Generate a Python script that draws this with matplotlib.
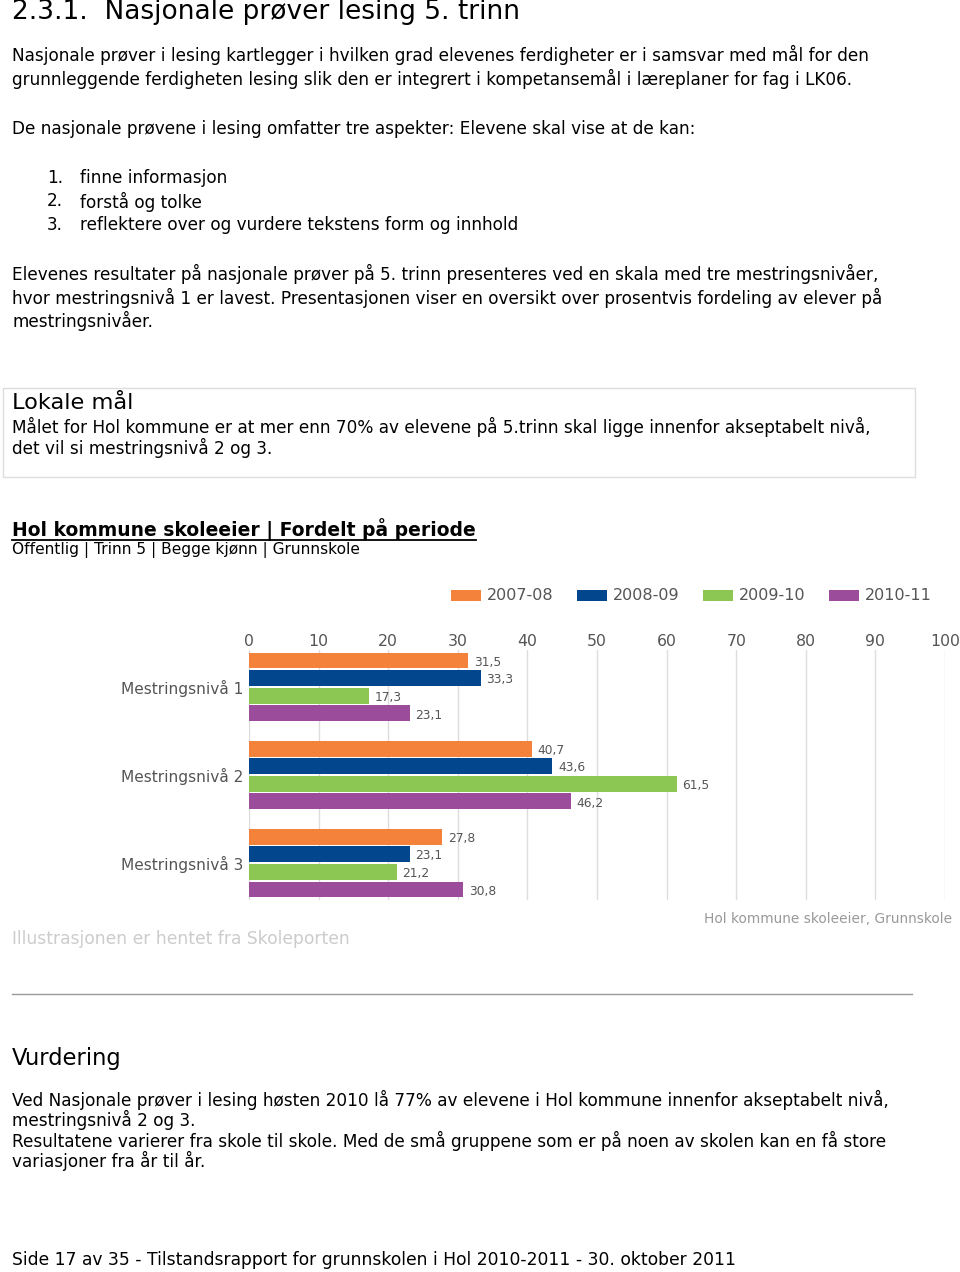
import matplotlib
matplotlib.use("Agg")
import matplotlib.pyplot as plt
import numpy as np

plt.rcParams["font.family"] = ["DejaVu Sans"]

# chart data
levels = ["Mestringsnivå 1", "Mestringsnivå 2", "Mestringsnivå 3"]
periods = ["2007-08", "2008-09", "2009-10", "2010-11"]
colors = ["#f5823a", "#02478e", "#8cc653", "#9b4c9b"]
v_2007 = [31.5, 40.7, 27.8]
v_2008 = [33.3, 43.6, 23.1]
v_2009 = [17.3, 61.5, 21.2]
v_2010 = [23.1, 46.2, 30.8]
ticks = list(range(0, 101, 10))

W, H = 960, 1272
fig = plt.figure(figsize=(W / 100, H / 100), dpi=100)

page = fig.add_axes([0, 0, 1, 1])
page.set_xlim(0, W)
page.set_ylim(H, 0)
page.axis("off")

BODY = 12.15
TXT = "#000000"


def line(x, y, s, size=BODY, **kw):
    return page.text(x, y, s, fontsize=size, va="center", ha="left", color=kw.pop("color", TXT), **kw)


line(12, 12, "2.3.1.  Nasjonale prøver lesing 5. trinn", size=19)
line(12, 55, "Nasjonale prøver i lesing kartlegger i hvilken grad elevenes ferdigheter er i samsvar med mål for den")
line(12, 79, "grunnleggende ferdigheten lesing slik den er integrert i kompetansemål i læreplaner for fag i LK06.")
line(12, 129, "De nasjonale prøvene i lesing omfatter tre aspekter: Elevene skal vise at de kan:")
for i, item in enumerate(["finne informasjon", "forstå og tolke",
                          "reflektere over og vurdere tekstens form og innhold"]):
    y = 178 + i * 23.5
    line(47, y, f"{i + 1}.")
    line(80, y, item)
line(12, 274, "Elevenes resultater på nasjonale prøver på 5. trinn presenteres ved en skala med tre mestringsnivåer,")
line(12, 298, "hvor mestringsnivå 1 er lavest. Presentasjonen viser en oversikt over prosentvis fordeling av elever på")
line(12, 321, "mestringsnivåer.")

# Lokale mål box
page.add_patch(plt.Rectangle((3, 388), 912, 89, fill=False, edgecolor="#dddddd", lw=1))
line(12, 403, "Lokale mål", size=16.2)
line(12, 427, "Målet for Hol kommune er at mer enn 70% av elevene på 5.trinn skal ligge innenfor akseptabelt nivå,")
line(12, 448, "det vil si mestringsnivå 2 og 3.")

# chart header
hdr = line(12, 530, "Hol kommune skoleeier | Fordelt på periode", size=13.5, fontweight="bold")
line(12, 550, "Offentlig | Trinn 5 | Begge kjønn | Grunnskole", size=11.05)

# legend
for i, (p, c) in enumerate(zip(periods, colors)):
    x0 = 451 + i * 126
    page.add_patch(plt.Rectangle((x0, 590), 30, 11, color=c, lw=0))
    line(x0 + 36, 596, p, size=11.5, color="#555555")

line(704, 919, "Hol kommune skoleeier, Grunnskole", size=9.9, color="#999999")
line(12, 939, "Illustrasjonen er hentet fra Skoleporten", size=12.3, color="#cccccc")
page.plot([12, 912], [994, 994], color="#999999", lw=1)

line(12, 1058, "Vurdering", size=16.3)
line(12, 1100, "Ved Nasjonale prøver i lesing høsten 2010 lå 77% av elevene i Hol kommune innenfor akseptabelt nivå,")
line(12, 1120, "mestringsnivå 2 og 3.")
line(12, 1141, "Resultatene varierer fra skole til skole. Med de små gruppene som er på noen av skolen kan en få store")
line(12, 1161, "variasjoner fra år til år.")
line(12, 1260, "Side 17 av 35 - Tilstandsrapport for grunnskolen i Hol 2010-2011 - 30. oktober 2011", size=12.3)

# chart axes
ax = fig.add_axes([249 / W, 1 - 900 / H, (945 - 249) / W, (900 - 650) / H])
ax.set_xlim(0, 100)
ax.set_ylim(2.42, -0.42)
ax.set_facecolor("none")
for s in ax.spines.values():
    s.set_visible(False)
ax.set_xticks(ticks)
ax.xaxis.tick_top()
ax.tick_params(axis="x", length=0, pad=0.5, labelsize=11.3, labelcolor="#555555")
ax.tick_params(axis="y", length=0, pad=4, labelsize=11.1, labelcolor="#555555")
ax.grid(axis="x", color="#dddddd", lw=1)
ax.set_axisbelow(True)
ax.set_yticks(np.arange(len(levels)))
ax.set_yticklabels(levels)

series = [v_2007, v_2008, v_2009, v_2010]
y = np.arange(len(levels))
for k, (vals, c) in enumerate(zip(series, colors)):
    pos = y - 0.3 + k * 0.2
    ax.barh(pos, vals, height=0.18, color=c, lw=0)
    for yy, v in zip(pos, vals):
        ax.text(v + 0.8, yy + 0.02, f"{v:.1f}".replace(".", ","), va="center", ha="left",
                fontsize=8.8, color="#555555")

fig.canvas.draw()
bb = hdr.get_window_extent()
inv = page.transData.inverted()
(x0, _), (x1, _) = inv.transform([(bb.x0, bb.y0), (bb.x1, bb.y0)])
page.plot([x0, x1], [540, 540], color="black", lw=1.3)

fig.savefig("out.png", dpi=100)
